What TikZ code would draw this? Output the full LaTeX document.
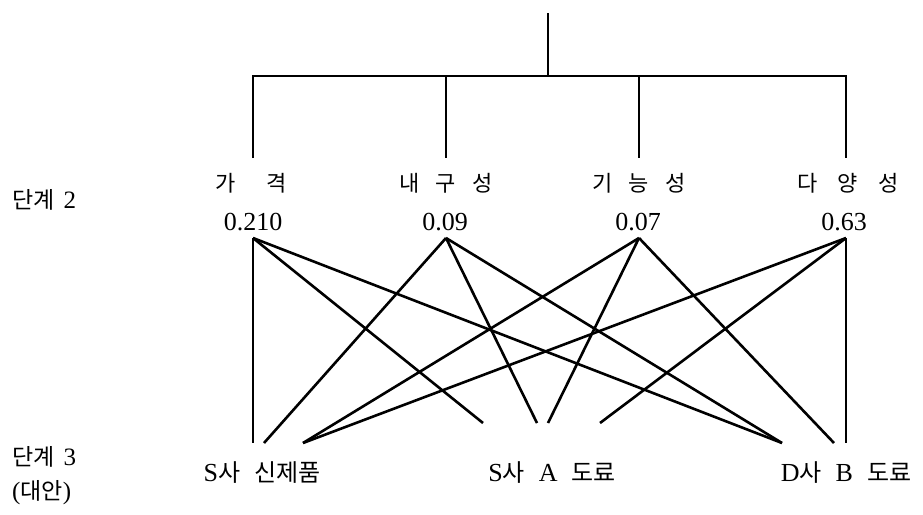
\documentclass[tikz,border=0pt]{standalone}
\usepackage{fontspec}
\setmainfont{Liberation Serif}
\newfontfamily\kr{Noto Sans CJK KR}
\begin{document}
\begin{tikzpicture}[x=1pt,y=-1pt,
  tree/.style={line width=2pt},
  link/.style={line width=2.6pt},
  lab/.style={inner sep=0pt,font=\kr\fontsize{22}{22}\selectfont},
  wt/.style={inner sep=0pt,font=\fontsize{26}{26}\selectfont},
  alt/.style={inner sep=0pt,font=\fontsize{26}{26}\selectfont},
  lvl/.style={inner sep=0pt,anchor=west,font=\fontsize{25}{25}\selectfont}]
\useasboundingbox (0,0) rectangle (923,514);
% tree
\coordinate (top) at (548,13);
\coordinate (bar) at (548,76);
\coordinate (b1) at (253,76);
\coordinate (b2) at (446,76);
\coordinate (b3) at (639,76);
\coordinate (b4) at (846,76);
\coordinate (e1) at (253,158);
\coordinate (e2) at (446,158);
\coordinate (e3) at (639,158);
\coordinate (e4) at (846,158);
\draw[tree] (top) -- (bar);
\draw[tree] (e1) -- (b1) -- (b4) -- (e4);
\draw[tree] (b2) -- (e2);
\draw[tree] (b3) -- (e3);
% criteria
\node[lab] (c1) at (251,183) {가\hspace{31pt}격};
\node[lab] (c2) at (446,183) {내\hspace{16pt}구\hspace{16pt}성};
\node[lab] (c3) at (639,183) {기\hspace{16pt}능\hspace{16pt}성};
\node[lab] (c4) at (848,183) {다\hspace{20pt}양\hspace{20pt}성};
\node[wt] (w1) at (253,222) {0.210};
\node[wt] (w2) at (445,222) {0.09};
\node[wt] (w3) at (638,222) {0.07};
\node[wt] (w4) at (844,222) {0.63};
\coordinate (p1) at (253,238);
\coordinate (p2) at (446,238);
\coordinate (p3) at (639,238);
\coordinate (p4) at (846,238);
% alternative ends
\coordinate (l1) at (253,443);
\coordinate (l2) at (264,443);
\coordinate (l3) at (303,443);
\coordinate (m1) at (483,423);
\coordinate (m2) at (537,423);
\coordinate (m3) at (548,423);
\coordinate (m4) at (600,423);
\coordinate (r1) at (782,443);
\coordinate (r2) at (834,443);
\coordinate (r3) at (846,443);
\draw[link] (p1) -- (l1);
\draw[link] (p1) -- (m1);
\draw[link] (p1) -- (r1);
\draw[link] (p2) -- (l2);
\draw[link] (p2) -- (m2);
\draw[link] (p2) -- (r1);
\draw[link] (p3) -- (l3);
\draw[link] (p3) -- (m3);
\draw[link] (p3) -- (r2);
\draw[link] (p4) -- (l3);
\draw[link] (p4) -- (m4);
\draw[link] (p4) -- (r3);
% alternatives
\node[alt] (a1) at (262,473) {S{\kr\fontsize{24}{24}\selectfont 사}\hspace{14pt}{\kr\fontsize{24}{24}\selectfont 신제품}};
\node[alt] (a2) at (552,473) {S{\kr\fontsize{24}{24}\selectfont 사}\hspace{14pt}A\hspace{14pt}{\kr\fontsize{24}{24}\selectfont 도료}};
\node[alt] (a3) at (846,473) {D{\kr\fontsize{24}{24}\selectfont 사}\hspace{14pt}B\hspace{14pt}{\kr\fontsize{24}{24}\selectfont 도료}};
% levels
\node[lvl] (s2) at (12,200) {{\kr\fontsize{23}{23}\selectfont 단계}\hspace{9pt}2};
\node[lvl] (s3) at (12,457) {{\kr\fontsize{23}{23}\selectfont 단계}\hspace{9pt}3};
\node[lvl] (s3b) at (12,493) {({\kr\fontsize{23}{23}\selectfont 대안})};
\end{tikzpicture}
\end{document}
